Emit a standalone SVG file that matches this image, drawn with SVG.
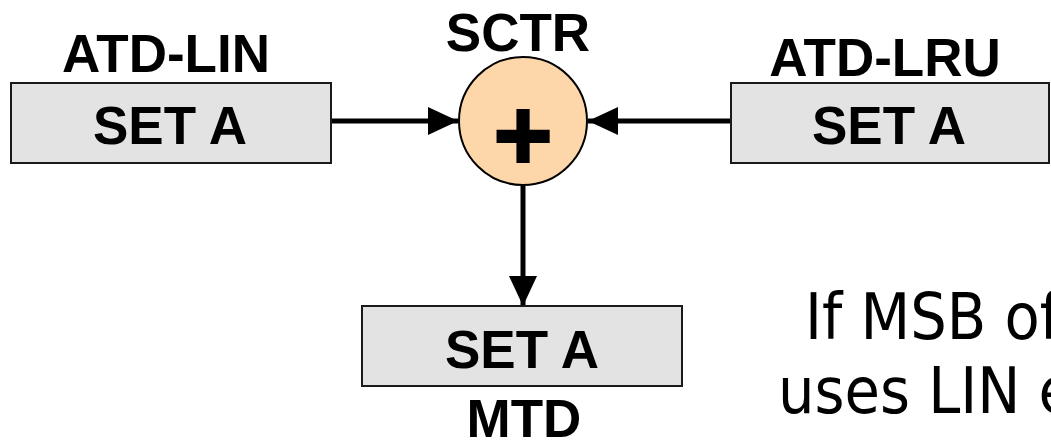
<svg xmlns="http://www.w3.org/2000/svg" width="1051" height="442" viewBox="0 0 1051 442">
  <style>
    .box { fill: #e3e3e3; stroke: #1a1a1a; stroke-width: 2; }
    .lbl { font-family: "Liberation Sans", Arial, sans-serif; font-weight: bold; font-size: 53px; fill: #000; text-anchor: middle; }
    .wire { stroke: #000; stroke-width: 5; fill: none; }
    .note { font-family: "DejaVu Sans Condensed", "DejaVu Sans", sans-serif; font-size: 64px; fill: #000; }
  </style>
  <defs>
    <marker id="head" viewBox="0 0 30 28" refX="30" refY="14" markerWidth="30" markerHeight="28" markerUnits="userSpaceOnUse" orient="auto">
      <path d="M0,0 L30,14 L0,28 Z" fill="#000"/>
    </marker>
  </defs>

  <g id="connectors">
    <line class="wire" x1="332" y1="121" x2="458" y2="121" marker-end="url(#head)"/>
    <line class="wire" x1="730" y1="121" x2="588" y2="121" marker-end="url(#head)"/>
    <line class="wire" x1="523" y1="186" x2="523" y2="306" marker-end="url(#head)"/>
  </g>

  <g id="atd-lin">
    <text class="lbl" x="166" y="72">ATD-LIN</text>
    <rect class="box" x="11" y="83" width="320" height="80"/>
    <text class="lbl" x="170" y="144">SET A</text>
  </g>

  <g id="sctr">
    <text class="lbl" x="518" y="51">SCTR</text>
    <circle cx="523" cy="121" r="64" fill="#fdd6a9" stroke="#000" stroke-width="2"/>
    <text x="523" y="170" font-family="'Liberation Sans', Arial, sans-serif" font-weight="bold" font-size="102" text-anchor="middle" stroke="#000" stroke-width="2">+</text>
  </g>

  <g id="atd-lru">
    <text class="lbl" x="885" y="76">ATD-LRU</text>
    <rect class="box" x="731" y="83" width="318" height="80"/>
    <text class="lbl" x="889" y="144">SET A</text>
  </g>

  <g id="mtd">
    <rect class="box" x="362" y="306" width="320" height="80"/>
    <text class="lbl" x="522" y="368">SET A</text>
    <text class="lbl" x="524" y="437">MTD</text>
  </g>

  <g id="note">
    <text class="note" x="805" y="339">If MSB of</text>
    <text class="note" x="778" y="413">uses LIN e</text>
  </g>
</svg>
